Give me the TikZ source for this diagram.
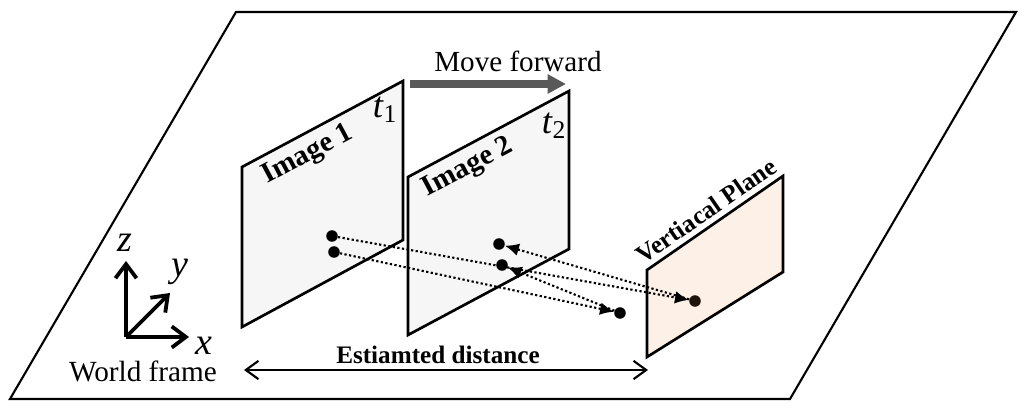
\documentclass[tikz,border=0pt]{standalone}
\usepackage{fontspec}
\setmainfont{Liberation Serif}
\usetikzlibrary{arrows.meta,calc}
\definecolor{imagegray}{RGB}{246,246,246}
\definecolor{planeorange}{RGB}{253,241,231}
\definecolor{movegray}{RGB}{89,89,89}
\tikzset{
  ptdot/.style={circle,fill=black,inner sep=0pt,minimum size=8.2pt},
  rayline/.style={dash pattern=on 1.6pt off 1.7pt,line width=1.5pt},
  rayhead/.style={rayline,-{Latex[length=10pt,width=9pt]}},
  framebox/.style={line width=1.9pt,draw=black},
  axisline/.style={line width=2.7pt,-{Straight Barb[length=10pt,width=15pt,line width=2.7pt]}},
  lab/.style={inner sep=0pt,font=\fontsize{20.7}{23}\selectfont},
  boldlab/.style={inner sep=0pt,font=\bfseries\fontsize{20.5}{22}\selectfont},
  axislab/.style={inner sep=0pt,font=\itshape\fontsize{27}{29}\selectfont}
}

\begin{document}
\begin{tikzpicture}[x=0.025cm,y=-0.025cm]
  \useasboundingbox (0,0) rectangle (1024,411);
  % ground
  \draw[line width=1.5pt] (236,12)--(1016,12)--(790,399)--(10,399)--cycle;
  % image planes
  \draw[framebox,fill=imagegray] (242,167)--(403,81)--(403,240)--(242,327)--cycle;
  \draw[framebox,fill=imagegray] (408,177)--(569,91)--(569,249)--(408,335)--cycle;
  \draw[framebox,fill=planeorange] (647,270)--(783,176)--(783,272)--(647,357)--cycle;
  \node[boldlab,rotate=28] (imgone) at (308,155) {Image 1};
  \node[boldlab,rotate=28] (imgtwo) at (468,168) {Image 2};
  \node[boldlab,rotate=34.6,font=\bfseries\fontsize{18}{20}\selectfont] (vplane) at (706,211) {Vertiacal Plane};
  \node[axislab,font=\fontsize{26}{28}\selectfont] (tone) at (385,110) {\textit{t}\textsubscript{1}};
  \node[axislab,font=\fontsize{26}{28}\selectfont] (ttwo) at (554,126) {\textit{t}\textsubscript{2}};
  % motion
  \coordinate (movea) at (410,84);
  \coordinate (moveb) at (566,84);
  \draw[line width=5pt,color=movegray,-{Triangle[length=13pt,width=13pt]}] (movea)--(moveb);
  \node[lab] (move) at (518,61) {Move forward};
  % points and rays
  \node[ptdot] (pa) at (332,236) {};
  \node[ptdot] (pb) at (334,252) {};
  \node[ptdot] (pc) at (499,244) {};
  \node[ptdot] (pd) at (502,265) {};
  \node[ptdot] (pe) at (620,313) {};
  \node[ptdot,fill=black!85!brown] (pf) at (695,301) {};
  \draw[rayhead] (pa)--(pf);
  \draw[rayhead] (pb)--(pe);
  \draw[rayhead] (pf)--(pc);
  \draw[rayhead] (pe)--(pd);
  % distance
  \coordinate (dista) at (244,370);
  \coordinate (distb) at (648,370);
  \draw[line width=1.5pt,{Straight Barb[length=9pt,width=13pt]}-{Straight Barb[length=9pt,width=13pt]}] (dista)--(distb);
  \node[boldlab,font=\bfseries\fontsize{17.9}{20}\selectfont] (dist) at (438,355) {Estiamted distance};
  % world frame
  \coordinate (orig) at (126,337);
  \coordinate (zend) at (126,261);
  \coordinate (yend) at (170,293);
  \coordinate (xend) at (189,337);
  \draw[axisline] (orig)--(zend);
  \draw[axisline] (orig)--(yend);
  \draw[axisline] (orig)--(xend);
  \node[axislab] (zlab) at (125,243) {z};
  \node[axislab] (ylab) at (180,272) {y};
  \node[axislab] (xlab) at (204,346) {x};
  \node[lab,font=\fontsize{20.8}{23}\selectfont] (world) at (143,371) {World frame};
\end{tikzpicture}
\end{document}
